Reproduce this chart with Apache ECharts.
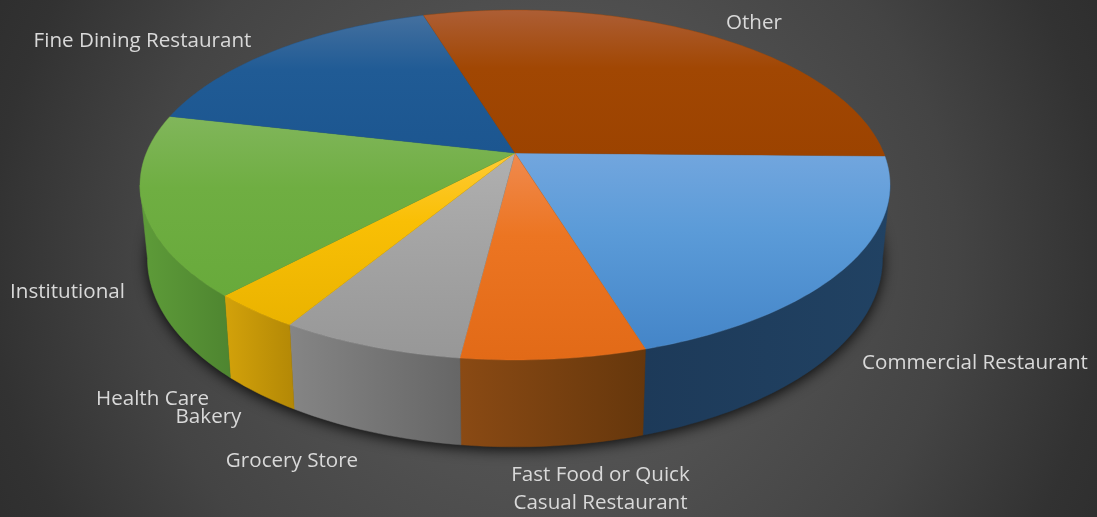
<!DOCTYPE html>
<html><head><meta charset="utf-8">
<style>
html,body{margin:0;padding:0;width:1097px;height:517px;overflow:hidden}
#c{width:1097px;height:517px;background:radial-gradient(ellipse 62% 130% at 50% 50%,#5a5a5a 0%,#505050 35%,#444444 60%,#323232 82%,#2a2a2a 100%)}
</style>
<script src="https://cdn.jsdelivr.net/npm/echarts@6/dist/echarts.min.js"></script>
</head><body><div id="c"></div>
<script>
const categories = ['Commercial Restaurant','Fast Food or Quick Casual Restaurant','Grocery Store','Bakery','Health Care','Institutional','Fine Dining Restaurant','Other'];
const counts = [6,2,2,1,0,5,5,9];
const topColors = [
 ['#72a6de','#5b9bd8','#4485c8'],['#f08a4e','#ec7522','#e26a17'],['#b0b0b0','#a5a5a5','#979797'],
 ['#ffcb36','#f9bf05','#eab300'],['#5b9bd5','#5b9bd5','#5b9bd5'],['#81b65b','#6fae42','#68aa3b'],
 ['#44709f','#205b95','#1c5690'],['#ad5e35','#a14703','#9c4300']];
const wallColors = [
 ['#1d3a59','#214263'],['#8a4a14','#66370c'],['#858585','#666666'],
 ['#d3a20a','#b38806'],['#2f5597','#2f5597'],['#5e9c39','#4e8530'],
 ['#14365a','#14365a'],['#5f2a00','#5f2a00']];
const labelLayout = [
 {x:975,y:363,a:'center'},{x:600.5,y:489,a:'center'},{x:292,y:461,a:'center'},{x:208.5,y:417,a:'center'},
 {x:152.5,y:399,a:'center'},{x:67.5,y:292,a:'center'},{x:142.5,y:41,a:'center'},{x:754,y:23,a:'center'}];
const labelText = ['Commercial Restaurant','Fast Food or Quick\nCasual Restaurant','Grocery Store','Bakery','Health Care','Institutional','Fine Dining Restaurant','Other'];

// perspective model of the disc
const P = {x0:515,y0:153,a:368.7,b:169.1,p:0.1829,depth:71,baseScale:0.98,start:1.03};
const tangent = Math.asin(P.p)*180/Math.PI;
function topPt(deg){const t=deg*Math.PI/180,X=Math.cos(t),Y=Math.sin(t),w=1-P.p*Y;
  return [P.x0+P.a*X/w,P.y0+P.b*Y/w];}
function basePt(deg){const t=deg*Math.PI/180,Y=Math.sin(t),w=1-P.p*Y,q=topPt(deg);
  return [P.x0+(q[0]-P.x0)*P.baseScale,q[1]+P.depth/w];}
const total = counts.reduce((s,v)=>s+v,0);
const angles=[P.start];counts.forEach(v=>angles.push(angles[angles.length-1]+v/total*360));
function arc(fn,a,b){const n=Math.max(2,Math.ceil(Math.abs(b-a))),r=[];
  for(let i=0;i<=n;i++)r.push(fn(a+(b-a)*i/n));return r;}
function vgrad(c){return {type:'linear',x:0,y:0,x2:0,y2:1,colorStops:[{offset:0,color:c[0]},{offset:.4,color:c[1]},{offset:1,color:c[2]}]};}
function hgrad(c){return {type:'linear',x:0,y:0,x2:1,y2:0,colorStops:[{offset:0,color:c[0]},{offset:1,color:c[1]}]};}

function renderSlice(params){
  const i=params.dataIndex,a=angles[i],b=angles[i+1],children=[];
  if(i===0){
    children.push({type:'polygon',z2:-1,shape:{points:arc(basePt,0,360)},
      style:{fill:'#222',shadowBlur:14,shadowColor:'rgba(0,0,0,0.85)',shadowOffsetY:3}});
  }
  if(b>a){
    const wa=Math.max(a,tangent),wb=Math.min(b,180-tangent);
    if(wb>wa){
      const wt=arc(topPt,wa,wb),wbase=arc(basePt,wa,wb);
      children.push({type:'polygon',z2:1,shape:{points:wt.concat(wbase.slice().reverse())},
        style:{fill:hgrad(wallColors[i]),stroke:hgrad(wallColors[i]),lineWidth:.5}});
    }
    children.push({type:'polygon',z2:10,shape:{points:[[P.x0,P.y0]].concat(arc(topPt,a,b))},
      style:{fill:vgrad(topColors[i]),stroke:topColors[i][1],lineWidth:.4}});
  }
  return {type:'group',children};
}
const chart=echarts.init(document.getElementById('c'),null,{renderer:'canvas',width:1097,height:517});
chart.setOption({
  animation:false,
  backgroundColor:'transparent',
  series:[{type:'custom',coordinateSystem:'none',renderItem:renderSlice,silent:true,
    data:categories.map((n,i)=>({name:n,value:counts[i]}))}],
  graphic:labelText.map((t,i)=>({type:'text',x:labelLayout[i].x,y:labelLayout[i].y,z:50,silent:true,
    style:{text:t,fill:'#d9d9d9',font:'20.6px "Open Sans"',lineHeight:28,textAlign:labelLayout[i].a,textVerticalAlign:'middle'}}))
});
</script></body></html>
